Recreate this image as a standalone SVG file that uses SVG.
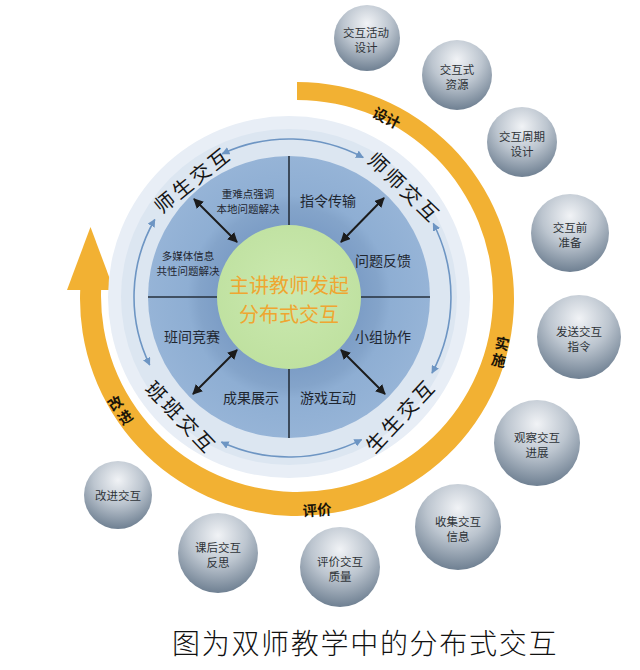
<svg xmlns="http://www.w3.org/2000/svg" width="640" height="670" viewBox="0 0 640 670">
<style>
text{font-family:"Noto Sans CJK SC","Liberation Sans",sans-serif;dominant-baseline:central;text-anchor:middle;}
.sec{font-size:14px;fill:#1f2630;}
.small{font-size:10.5px;fill:#1f2630;}
.ring{font-size:20px;fill:#151515;letter-spacing:3px;}
.phase{font-size:14.5px;font-weight:bold;fill:#1a1408;}
.bt{font-size:11.5px;fill:#2e3338;}
.bub{fill:url(#bubG);}
.blk{stroke:#1b1b1b;stroke-width:2;fill:none;marker-start:url(#ah);marker-end:url(#ah);}
.thin{stroke:#6d95c3;stroke-width:1.6;fill:none;marker-start:url(#ahb);marker-end:url(#ahb);}
.div{stroke:#26303c;stroke-width:1.6;}
</style>
<defs>
<radialGradient id="bubG" cx="50%" cy="28%" r="72%">
<stop offset="0" stop-color="#f1f3f6"/>
<stop offset="0.5" stop-color="#bcc5cf"/>
<stop offset="1" stop-color="#6f8092"/>
</radialGradient>
<radialGradient id="blueG" cx="50%" cy="50%" r="50%">
<stop offset="0.5" stop-color="#7c9dc6"/>
<stop offset="0.64" stop-color="#84a4ca"/>
<stop offset="0.72" stop-color="#8eaed3"/>
<stop offset="1" stop-color="#96b4d7"/>
</radialGradient>
<radialGradient id="greenG" cx="50%" cy="45%" r="55%">
<stop offset="0" stop-color="#cbe9b0"/>
<stop offset="1" stop-color="#bfe1a0"/>
</radialGradient>
<marker id="ah" viewBox="0 0 10 10" refX="9" refY="5" markerWidth="5" markerHeight="5" orient="auto-start-reverse">
<path d="M0,0 L10,5 L0,10 Z" fill="#1b1b1b"/>
</marker>
<marker id="ahb" viewBox="0 0 10 10" refX="9" refY="5" markerWidth="5" markerHeight="5" orient="auto-start-reverse">
<path d="M0,0 L10,5 L0,10 Z" fill="#6d95c3"/>
</marker>
</defs>
<rect width="640" height="670" fill="#ffffff"/>

<g id="cycle">
<path d="M297,82 A217,217 0 1 1 80.2,290 L101.1,290 A196,196 0 1 0 297,100 Z" fill="#f2b133"/>
<polygon points="67,290 114,290 90.5,227" fill="#f2b133"/>
<text class="phase" transform="translate(387,117) rotate(27)">设计</text>
<text class="phase" transform="translate(501,350) rotate(12)"><tspan x="0" y="-8">实</tspan><tspan x="0" y="9">施</tspan></text>
<text class="phase" transform="translate(317,509) rotate(-4)">评价</text>
<text class="phase" transform="translate(119,408.5) rotate(-35)"><tspan x="0" y="-8">改</tspan><tspan x="0" y="9">进</tspan></text>
</g>

<g id="wheel">
<circle cx="289" cy="297" r="181" fill="#e8eef6"/>
<circle cx="289" cy="297" r="168" fill="#dce6f1"/>
<circle cx="289" cy="297" r="141" fill="url(#blueG)"/>
<line class="div" x1="289" y1="156" x2="289" y2="438"/>
<line class="div" x1="148" y1="297" x2="430" y2="297"/>
</g>

<g id="center">
<circle cx="289" cy="297" r="72" fill="url(#greenG)"/>
<text style="font-size:20px;fill:#efa631;"><tspan x="289" y="284">主讲教师发起</tspan><tspan x="289" y="313">分布式交互</tspan></text>
</g>

<g id="sectors">
<text class="small"><tspan x="248" y="193">重难点强调</tspan><tspan x="248" y="208">本地问题解决</tspan></text>
<text class="sec" x="328" y="200">指令传输</text>
<text class="small"><tspan x="188" y="255">多媒体信息</tspan><tspan x="188" y="270">共性问题解决</tspan></text>
<text class="sec" x="383" y="260">问题反馈</text>
<text class="sec" x="192" y="336">班间竞赛</text>
<text class="sec" x="383" y="336">小组协作</text>
<text class="sec" x="251" y="397">成果展示</text>
<text class="sec" x="328" y="397">游戏互动</text>
</g>

<g id="ring-labels">
<text class="ring" transform="translate(192,179) rotate(-39)">师生交互</text>
<text class="ring" transform="translate(405,187) rotate(44)">师师交互</text>
<text class="ring" transform="translate(400,415) rotate(-47)">生生交互</text>
<text class="ring" transform="translate(182,417) rotate(46)">班班交互</text>
</g>

<g id="connectors">
<line class="blk" x1="194" y1="199" x2="237" y2="242"/>
<line class="blk" x1="384" y1="198" x2="341" y2="242"/>
<line class="blk" x1="237" y1="350" x2="193" y2="394"/>
<line class="blk" x1="341" y1="350" x2="385" y2="394"/>
<path class="thin" d="M222.2,153.8 A158,158 0 0 1 363.2,157.5"/>
<path class="thin" d="M433.3,223.5 A162,162 0 0 1 432,373.1"/>
<path class="thin" d="M361.6,439.6 A160,160 0 0 1 221.4,442"/>
<path class="thin" d="M149.7,365 A155,155 0 0 1 154.8,219.5"/>
</g>

<g id="b1"><circle class="bub" cx="367" cy="38" r="33"/><text class="bt"><tspan x="366" y="32">交互活动</tspan><tspan x="366" y="47">设计</tspan></text></g>
<g id="b2"><circle class="bub" cx="457" cy="75" r="35"/><text class="bt"><tspan x="457" y="69">交互式</tspan><tspan x="457" y="84">资源</tspan></text></g>
<g id="b3"><circle class="bub" cx="522" cy="142" r="35"/><text class="bt"><tspan x="522" y="136">交互周期</tspan><tspan x="522" y="151">设计</tspan></text></g>
<g id="b4"><circle class="bub" cx="570" cy="233" r="39"/><text class="bt"><tspan x="570" y="227">交互前</tspan><tspan x="570" y="242">准备</tspan></text></g>
<g id="b5"><circle class="bub" cx="579" cy="337" r="42"/><text class="bt"><tspan x="579" y="331">发送交互</tspan><tspan x="579" y="346">指令</tspan></text></g>
<g id="b6"><circle class="bub" cx="537" cy="443" r="43"/><text class="bt"><tspan x="537" y="437">观察交互</tspan><tspan x="537" y="452">进展</tspan></text></g>
<g id="b7"><circle class="bub" cx="458" cy="527" r="43"/><text class="bt"><tspan x="458" y="521">收集交互</tspan><tspan x="458" y="536">信息</tspan></text></g>
<g id="b8"><circle class="bub" cx="340" cy="567" r="40"/><text class="bt"><tspan x="340" y="561">评价交互</tspan><tspan x="340" y="576">质量</tspan></text></g>
<g id="b9"><circle class="bub" cx="218" cy="553" r="40"/><text class="bt"><tspan x="218" y="547">课后交互</tspan><tspan x="218" y="562">反思</tspan></text></g>
<g id="b10"><circle class="bub" cx="118" cy="495" r="34"/><text class="bt" x="118" y="495">改进交互</text></g>

<text id="caption" x="172" y="642" style="text-anchor:start;font-size:28px;font-weight:300;letter-spacing:1.7px;fill:#111;">图为双师教学中的分布式交互</text>
</svg>
